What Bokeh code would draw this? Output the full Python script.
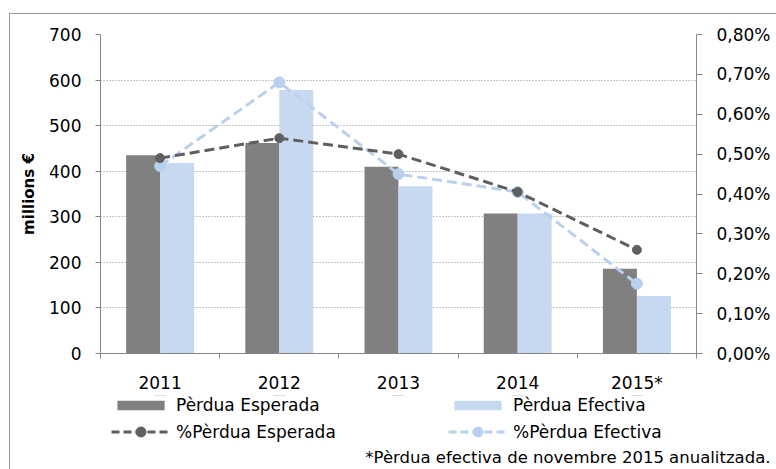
from bokeh.plotting import figure
from bokeh.layouts import column
from bokeh.models import (ColumnDataSource, Range1d, LinearAxis, CategoricalAxis, FixedTicker,
                          CustomJSTickFormatter, Legend, LegendItem, Title)
from bokeh.transform import dodge
from bokeh.embed import file_html
from bokeh.resources import INLINE

years = ["2011", "2012", "2013", "2014", "2015*"]
perdua_esperada = [435, 462, 410, 307, 186]
perdua_efectiva = [418, 578, 367, 307, 126]
pct_esperada = [0.49, 0.54, 0.50, 0.405, 0.26]
pct_efectiva = [0.47, 0.68, 0.45, 0.405, 0.175]
left_ticks = [0, 100, 200, 300, 400, 500, 600, 700]
right_ticks = [0.0, 0.1, 0.2, 0.3, 0.4, 0.5, 0.6, 0.7, 0.8]
boundary_ticks = [0, 1, 2, 3, 4, 5]
legend_labels = ["Pèrdua Esperada", "Pèrdua Efectiva", "%Pèrdua Esperada", "%Pèrdua Efectiva"]
footnote = "*Pèrdua efectiva de novembre 2015 anualitzada."

FONT = "DejaVu Sans"
GRAY_BAR = "#808080"
BLUE_BAR = "#c6d9f1"
GRAY_LINE = "#5f5f5f"
BLUE_LINE = "#b9d1ee"
AXIS_COL = "#868686"

src = ColumnDataSource(dict(year=years, esp=perdua_esperada, efe=perdua_efectiva,
                            pesp=pct_esperada, pefe=pct_efectiva))

p1 = figure(x_range=years, y_range=Range1d(0, 700), width=766, height=381,
            output_backend="svg", toolbar_location=None, x_axis_location=None,
            min_border_left=90, min_border_right=80, min_border_top=20, min_border_bottom=39)
p1.outline_line_color = None
p1.background_fill_color = "white"
p1.border_fill_color = "white"
p1.extra_y_ranges = {"pct": Range1d(0, 0.8)}

# left axis
ya = p1.yaxis[0]
ya.ticker = FixedTicker(ticks=left_ticks)
ya.axis_line_color = AXIS_COL
ya.major_tick_line_color = AXIS_COL
ya.major_tick_out = 5
ya.major_tick_in = 0
ya.minor_tick_line_color = None
ya.major_label_text_font = FONT
ya.major_label_text_font_size = "17px"
ya.major_label_text_color = "black"
ya.major_label_standoff = 14
ya.axis_label = "millions €"
ya.axis_label_text_font = FONT
ya.axis_label_text_font_style = "bold"
ya.axis_label_text_font_size = "15px"
ya.axis_label_text_color = "black"
ya.axis_label_standoff = 8

p1.ygrid.ticker = FixedTicker(ticks=left_ticks)
p1.ygrid.grid_line_color = "#8a8a8a"
p1.ygrid.grid_line_dash = "1 2"
p1.ygrid.grid_line_width = 1
p1.xgrid.grid_line_color = None

# right axis
ra = LinearAxis(y_range_name="pct", ticker=FixedTicker(ticks=right_ticks),
                formatter=CustomJSTickFormatter(code="return tick.toFixed(2).replace('.', ',') + '%';"))
ra.axis_line_color = AXIS_COL
ra.major_tick_line_color = AXIS_COL
ra.major_tick_out = 6
ra.major_tick_in = 0
ra.minor_tick_line_color = None
ra.major_label_text_font = FONT
ra.major_label_text_font_size = "17px"
ra.major_label_text_color = "black"
ra.major_label_standoff = 14
p1.add_layout(ra, "right")

# bottom: boundary ticks axis, then category labels
ba = LinearAxis(ticker=FixedTicker(ticks=boundary_ticks),
                formatter=CustomJSTickFormatter(code="return '';"))
ba.axis_line_color = AXIS_COL
ba.major_tick_line_color = AXIS_COL
ba.major_tick_out = 5
ba.major_tick_in = 0
ba.minor_tick_line_color = None
ba.major_label_text_font_size = "1px"
ba.major_label_standoff = 0
p1.add_layout(ba, "below")

ca = CategoricalAxis()
ca.axis_line_color = None
ca.major_tick_line_color = None
ca.major_label_text_font = FONT
ca.major_label_text_font_size = "17px"
ca.major_label_text_color = "black"
ca.major_label_standoff = 8
p1.add_layout(ca, "below")

# bars
p1.vbar(x=dodge("year", -0.1425, range=p1.x_range), top="esp", width=0.285,
        source=src, fill_color=GRAY_BAR, line_color=None)
p1.vbar(x=dodge("year", 0.1425, range=p1.x_range), top="efe", width=0.285,
        source=src, fill_color=BLUE_BAR, line_color=None)

# lines
p1.line("year", "pefe", source=src, y_range_name="pct", line_color=BLUE_LINE,
        line_width=3, line_dash="10 5")
p1.scatter("year", "pefe", source=src, y_range_name="pct", size=11,
           fill_color=BLUE_LINE, line_color=BLUE_LINE)
p1.line("year", "pesp", source=src, y_range_name="pct", line_color=GRAY_LINE,
        line_width=3, line_dash="10 5")
p1.scatter("year", "pesp", source=src, y_range_name="pct", size=9,
           fill_color=GRAY_LINE, line_color=GRAY_LINE)

# legend / footnote strip (its frame is aligned with the chart frame by the column)
p2 = figure(x_range=years, y_range=Range1d(-2, -1), width=766, height=74,
            output_backend="svg", toolbar_location=None, x_axis_location=None,
            y_axis_location=None, min_border=0, min_border_left=0, min_border_right=0,
            min_border_top=0, min_border_bottom=24)
p2.outline_line_color = None
p2.grid.visible = False
p2.background_fill_color = "white"
p2.border_fill_color = "white"

# same data, drawn outside this strip's visible range: only used for legend swatches
d_esp = p2.vbar(x="year", top="esp", width=0.1, source=src, fill_color=GRAY_BAR, line_color=None)
d_efe = p2.vbar(x="year", top="efe", width=0.1, source=src, fill_color=BLUE_BAR, line_color=None)
d_lesp = p2.line("year", "pesp", source=src, line_color=GRAY_LINE, line_width=3, line_dash="8 4")
d_mesp = p2.scatter("year", "pesp", source=src, fill_color=GRAY_LINE, line_color=GRAY_LINE)
d_lefe = p2.line("year", "pefe", source=src, line_color=BLUE_LINE, line_width=3, line_dash="8 4")
d_mefe = p2.scatter("year", "pefe", source=src, fill_color=BLUE_LINE, line_color=BLUE_LINE)

common = dict(orientation="horizontal", glyph_width=59, label_standoff=6, label_width=262,
              spacing=10, padding=0, margin=0, border_line_color=None, background_fill_alpha=0,
              label_text_font=FONT, label_text_font_size="17px", label_text_color="black")
leg_bars = Legend(items=[LegendItem(label=legend_labels[0], renderers=[d_esp]),
                         LegendItem(label=legend_labels[1], renderers=[d_efe])],
                  location=(11, 30), glyph_height=12, **common)
leg_lines = Legend(items=[LegendItem(label=legend_labels[2], renderers=[d_lesp, d_mesp]),
                          LegendItem(label=legend_labels[3], renderers=[d_lefe, d_mefe])],
                   location=(11, 1), glyph_height=25, **common)
p2.add_layout(leg_bars, "center")
p2.add_layout(leg_lines, "center")

p2.add_layout(Title(text=footnote, align="right", offset=-74, standoff=0, text_font=FONT,
                    text_font_size="16.5px", text_font_style="normal", text_color="black"),
              "below")

p = column(p1, p2, spacing=0,
           styles={"margin-left": "9px", "margin-top": "13px",
                   "border-left": "1px solid #9a9a9a", "border-top": "1px solid #9a9a9a"})

open("out.html", "w").write(file_html(p, INLINE))
